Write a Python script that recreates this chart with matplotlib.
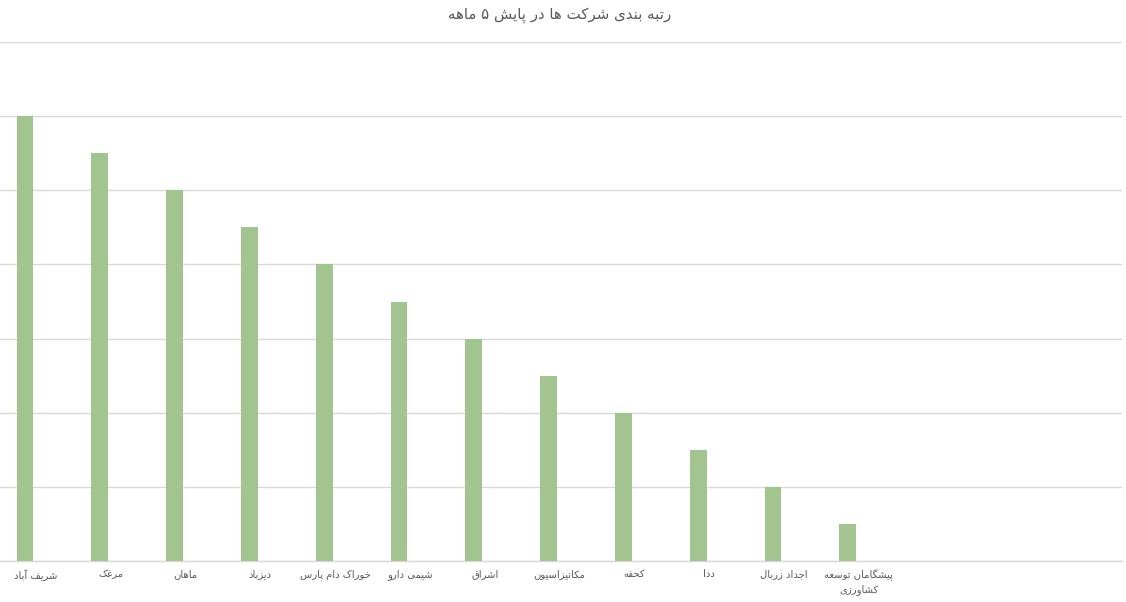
import matplotlib
matplotlib.use("Agg")
import matplotlib.pyplot as plt
import matplotlib.transforms as mtransforms
import numpy as np

# ---- data ----
title = "رتبه بندی شرکت ها در پایش ۵ ماهه"
categories = [
    "شریف آباد", "مرغک", "ماهان", "دیزباد", "خوراک دام پارس", "شیمی دارو",
    "اشراق", "مکانیزاسیون", "کحفه", "ددا", "اجداد زربال",
    "پیشگامان توسعه\nکشاورزی",
]
values = [12, 11, 10, 9, 8, 7, 6, 5, 4, 3, 2, 1]
y_ticks = [0, 2, 4, 6, 8, 10, 12, 14]

# ---- minimal Persian shaping (presentation forms) + RTL reorder ----
FORMS = {
    'ا': ('\uFE8D', '\uFE8E', None, None), 'آ': ('\uFE81', '\uFE82', None, None),
    'ب': ('\uFE8F', '\uFE90', '\uFE91', '\uFE92'), 'پ': ('\uFB56', '\uFB57', '\uFB58', '\uFB59'),
    'ت': ('\uFE95', '\uFE96', '\uFE97', '\uFE98'), 'ث': ('\uFE99', '\uFE9A', '\uFE9B', '\uFE9C'),
    'ج': ('\uFE9D', '\uFE9E', '\uFE9F', '\uFEA0'), 'چ': ('\uFB7A', '\uFB7B', '\uFB7C', '\uFB7D'),
    'ح': ('\uFEA1', '\uFEA2', '\uFEA3', '\uFEA4'), 'خ': ('\uFEA5', '\uFEA6', '\uFEA7', '\uFEA8'),
    'د': ('\uFEA9', '\uFEAA', None, None), 'ذ': ('\uFEAB', '\uFEAC', None, None),
    'ر': ('\uFEAD', '\uFEAE', None, None), 'ز': ('\uFEAF', '\uFEB0', None, None),
    'ژ': ('\uFB8A', '\uFB8B', None, None),
    'س': ('\uFEB1', '\uFEB2', '\uFEB3', '\uFEB4'), 'ش': ('\uFEB5', '\uFEB6', '\uFEB7', '\uFEB8'),
    'ص': ('\uFEB9', '\uFEBA', '\uFEBB', '\uFEBC'), 'ض': ('\uFEBD', '\uFEBE', '\uFEBF', '\uFEC0'),
    'ط': ('\uFEC1', '\uFEC2', '\uFEC3', '\uFEC4'), 'ظ': ('\uFEC5', '\uFEC6', '\uFEC7', '\uFEC8'),
    'ع': ('\uFEC9', '\uFECA', '\uFECB', '\uFECC'), 'غ': ('\uFECD', '\uFECE', '\uFECF', '\uFED0'),
    'ف': ('\uFED1', '\uFED2', '\uFED3', '\uFED4'), 'ق': ('\uFED5', '\uFED6', '\uFED7', '\uFED8'),
    'ک': ('\uFB8E', '\uFB8F', '\uFB90', '\uFB91'), 'گ': ('\uFB92', '\uFB93', '\uFB94', '\uFB95'),
    'ل': ('\uFEDD', '\uFEDE', '\uFEDF', '\uFEE0'), 'م': ('\uFEE1', '\uFEE2', '\uFEE3', '\uFEE4'),
    'ن': ('\uFEE5', '\uFEE6', '\uFEE7', '\uFEE8'), 'و': ('\uFEED', '\uFEEE', None, None),
    'ه': ('\uFEE9', '\uFEEA', '\uFEEB', '\uFEEC'), 'ی': ('\uFBFC', '\uFBFD', '\uFBFE', '\uFBFF'),
    'LA': ('\uFEFB', '\uFEFC', None, None), 'LAA': ('\uFEF5', '\uFEF6', None, None),
}


def shape_line(s):
    toks = []
    i = 0
    while i < len(s):
        c = s[i]
        if c == 'ل' and i + 1 < len(s) and s[i + 1] in ('ا', 'آ'):
            toks.append('LA' if s[i + 1] == 'ا' else 'LAA')
            i += 2
        else:
            toks.append(c)
            i += 1
    out = []
    for k, t in enumerate(toks):
        if t not in FORMS:
            out.append(t)
            continue
        f = FORMS[t]
        prev = toks[k - 1] if k > 0 else None
        nxt = toks[k + 1] if k + 1 < len(toks) else None
        pc = prev in FORMS and FORMS[prev][2] is not None
        nc = f[2] is not None and nxt in FORMS
        if pc and nc:
            out.append(f[3])
        elif pc:
            out.append(f[1])
        elif nc:
            out.append(f[2])
        else:
            out.append(f[0])
    return ''.join(out)[::-1]


def fa(s):
    return '\n'.join(shape_line(line) for line in s.split('\n'))


# ---- figure ----
W, H = 1126, 602
fig = plt.figure(figsize=(W / 100, H / 100), dpi=100)
ax_left, ax_right = 0 / W, 1122 / W
ax_bottom, ax_top = 1 - 561 / H, 1 - 42 / H
ax = fig.add_axes([ax_left, ax_bottom, ax_right - ax_left, ax_top - ax_bottom])

x = np.arange(len(categories))
bar_color = "#A2C48E"
ax.bar(x, values, width=0.227, color=bar_color, zorder=3)

# x-range so that bar centres sit at 25 + 74.8*i px
slot = 74.8
ax.set_xlim(-25 / slot, (1122 - 25) / slot)
ax.set_ylim(0, 14)
ax.set_yticks(y_ticks)
ax.yaxis.grid(True, color="#D9D9D9", linewidth=1.0, zorder=0)
ax.tick_params(axis='y', left=False, labelleft=False)
ax.tick_params(axis='x', bottom=False, length=0, pad=6)
ax.set_xticks(x)
ax.set_xticklabels([fa(c) for c in categories], fontsize=7.2,
                   color="#595959", family=["DejaVu Sans"], linespacing=1.3)
shift = mtransforms.ScaledTranslation(11 / 100, 0, fig.dpi_scale_trans)
for lbl in ax.get_xticklabels():
    lbl.set_transform(lbl.get_transform() + shift)
for sp in ["top", "right", "left"]:
    ax.spines[sp].set_visible(False)
ax.spines["bottom"].set_color("#D9D9D9")
ax.spines["bottom"].set_linewidth(1.0)

fig.text(560 / W, 1 - 15 / H, fa(title), ha="center", va="center",
         fontsize=10.8, color="#595959", family=["DejaVu Sans"])

fig.savefig("out.png", dpi=100)
